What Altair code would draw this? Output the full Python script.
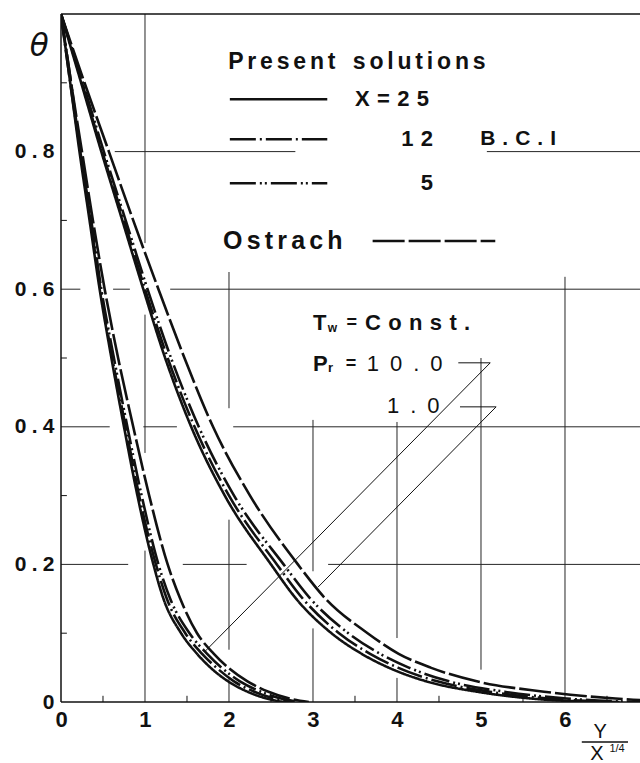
import altair as alt
import pandas as pd

# ---------------- data ----------------
theta_levels = [1.0, 0.9, 0.8, 0.7, 0.6, 0.5, 0.4, 0.3, 0.2, 0.15, 0.1, 0.07, 0.05, 0.03, 0.015, 0.005, 0.0]

# Pr = 10.0
pr10_x25 = [0, 0.11, 0.22, 0.34, 0.46, 0.60, 0.75, 0.91, 1.10, 1.22, 1.43, 1.62, 1.78, 1.99, 2.22, 2.45, 2.65]
pr10_x12 = [0, 0.11, 0.23, 0.35, 0.47, 0.61, 0.77, 0.93, 1.13, 1.26, 1.48, 1.68, 1.85, 2.06, 2.30, 2.54, 2.75]
pr10_x5 = [0, 0.12, 0.23, 0.36, 0.48, 0.63, 0.79, 0.96, 1.16, 1.30, 1.53, 1.74, 1.91, 2.13, 2.38, 2.62, 2.85]
pr10_ostrach = [0, 0.12, 0.25, 0.38, 0.52, 0.68, 0.86, 1.05, 1.27, 1.42, 1.62, 1.82, 1.99, 2.22, 2.47, 2.72, 2.95]

# Pr = 1.0
pr1_x25 = [0, 0.24, 0.48, 0.73, 0.98, 1.24, 1.55, 1.95, 2.50, 2.80, 3.22, 3.58, 3.90, 4.35, 4.95, 5.60, 6.40]
pr1_x12 = [0, 0.25, 0.49, 0.75, 1.00, 1.27, 1.59, 2.00, 2.57, 2.88, 3.31, 3.68, 4.01, 4.48, 5.10, 5.80, 6.65]
pr1_x5 = [0, 0.26, 0.51, 0.77, 1.03, 1.31, 1.64, 2.06, 2.65, 2.97, 3.42, 3.80, 4.14, 4.62, 5.28, 6.02, 6.90]
pr1_ostrach = [0, 0.28, 0.57, 0.86, 1.16, 1.47, 1.81, 2.25, 2.82, 3.15, 3.65, 4.02, 4.40, 4.95, 5.75, 6.60, 7.40]

x_ticks = [0, 1, 2, 3, 4, 5, 6]
y_ticks = [0, 0.2, 0.4, 0.6, 0.8]

series_names = ["X=25", "X=12", "X=5", "Ostrach"]

# ---------------- styling ----------------
XMAX = 6.893
FONT = "Liberation Sans"
INK = "#111111"
GRID = "#262626"
S3 = "\u2004"   # three-per-em space
S4 = "\u2005"   # four-per-em space
S6 = "\u2006"   # six-per-em space
S2 = "\u2002"   # en space
EM = "\u2003"

dashes = {
    "X=25": [1, 0],
    "X=12": [26, 4, 2, 4],
    "X=5": [26, 4, 2, 3, 2, 4],
    "Ostrach": [32, 4],
}

rows = []
for pr, lists in [("10", [pr10_x25, pr10_x12, pr10_x5, pr10_ostrach]),
                  ("1", [pr1_x25, pr1_x12, pr1_x5, pr1_ostrach])]:
    for name, xs in zip(series_names, lists):
        for i, (t, x) in enumerate(zip(theta_levels, xs)):
            rows.append({"series": name, "pr": pr, "x": x, "theta": t, "i": i})
curves = pd.DataFrame(rows)

xscale = alt.Scale(domain=[0, XMAX], nice=False, zero=False)
yscale = alt.Scale(domain=[0, 1], nice=False, zero=False)

x_axis = alt.Axis(values=x_ticks, format="d", domain=False, ticks=False, grid=False,
                  labelFont=FONT, labelFontSize=22, labelFontWeight="bold",
                  labelColor=INK, labelPadding=7, labelFlush=False, title=None)
y_axis = alt.Axis(values=y_ticks, domain=False, ticks=False, grid=False,
                  labelFont=FONT, labelFontSize=21, labelFontWeight="bold",
                  labelColor=INK, labelPadding=7, title=None,
                  labelExpr=f"datum.value == 0 ? '0' : replace(format(datum.value, '.1f'), '.', '{S4}.{S4}')")


def X(field="x"):
    return alt.X(f"{field}:Q", scale=xscale, axis=x_axis, title=None)


def Y(field="theta"):
    return alt.Y(f"{field}:Q", scale=yscale, axis=y_axis, title=None)


layers = []

# grid segments (broken like the original)
hgrid = pd.DataFrame([
    (0.8, 0.64, 2.79), (0.8, 5.07, XMAX),
    (0.6, 0.0, 0.23), (0.6, 0.62, 0.82), (0.6, 1.30, XMAX),
    (0.4, 0.0, 0.58), (0.4, 0.98, 1.38), (0.4, 2.05, XMAX),
    (0.2, 0.0, 0.80), (0.2, 1.45, 2.21), (0.2, 3.18, XMAX),
], columns=["theta", "x", "x2"])
vgrid = pd.DataFrame([
    (1, 1.0, 0.667), (1, 0.563, 0.362), (1, 0.22, 0.0),
    (2, 0.625, 0.427), (2, 0.265, 0.076), (2, 0.035, 0.0),
    (3, 0.41, 0.19), (3, 0.107, 0.0),
    (4, 0.407, 0.093), (4, 0.035, 0.0),
    (5, 0.50, 0.047),
    (6, 0.618, 0.0),
], columns=["x", "theta", "theta2"])

layers.append(alt.Chart(hgrid).mark_rule(color=GRID, strokeWidth=1).encode(
    x=X(), x2="x2:Q", y=Y()))
layers.append(alt.Chart(vgrid).mark_rule(color=GRID, strokeWidth=1).encode(
    x=X(), y=Y(), y2="theta2:Q"))

# frame: left axis, bottom axis, top line
frame_h = pd.DataFrame({"theta": [0.0, 1.0], "x": [0.0, 0.0], "x2": [XMAX, XMAX]})
frame_v = pd.DataFrame({"x": [0.0], "theta": [0.0], "theta2": [1.0]})
layers.append(alt.Chart(frame_h).mark_rule(color=INK, strokeWidth=1.5).encode(
    x=X(), x2="x2:Q", y=Y()))
layers.append(alt.Chart(frame_v).mark_rule(color=INK, strokeWidth=1.5).encode(
    x=X(), y=Y(), y2="theta2:Q"))

# minor ticks (inward)
ytick_minor = pd.DataFrame({"theta": [0.1, 0.3, 0.5, 0.7, 0.9], "x": [0.0] * 5, "x2": [0.07] * 5})
xtick_minor = pd.DataFrame({"x": [0.5, 1.5, 2.5, 3.5, 4.5, 5.5, 6.5], "theta": [0.0] * 7, "theta2": [0.009] * 7})
layers.append(alt.Chart(ytick_minor).mark_rule(color=INK, strokeWidth=1).encode(
    x=X(), x2="x2:Q", y=Y()))
layers.append(alt.Chart(xtick_minor).mark_rule(color=INK, strokeWidth=1).encode(
    x=X(), y=Y(), y2="theta2:Q"))

# curves
for name in series_names:
    layers.append(
        alt.Chart(curves).transform_filter(alt.datum.series == name)
        .mark_line(color=INK, strokeWidth=2.6, strokeDash=dashes[name], clip=True,
                   interpolate="monotone")
        .encode(x=X(), y=Y(), detail="pr:N", order="i:Q")
    )

# leader lines (Pr = 10.0 and 1.0)
leaders = pd.DataFrame([
    (4.73, 0.493, 5.11, 0.493), (5.11, 0.493, 1.71, 0.073),
    (4.75, 0.429, 5.18, 0.429), (5.18, 0.429, 3.06, 0.167),
], columns=["x", "theta", "x2", "theta2"])
layers.append(alt.Chart(leaders).mark_rule(color=INK, strokeWidth=1).encode(
    x=X(), y=Y(), x2="x2:Q", y2="theta2:Q"))

# legend sample lines
legend_lines = [
    ("X=25", 2.01, 3.17, 0.876),
    ("X=12", 2.01, 3.17, 0.818),
    ("X=5", 2.01, 3.17, 0.754),
    ("Ostrach", 3.71, 5.17, 0.670),
]
for name, x1, x2, t in legend_lines:
    layers.append(
        alt.Chart(pd.DataFrame({"x": [x1], "x2": [x2], "theta": [t]}))
        .mark_rule(color=INK, strokeWidth=2.6, strokeDash=dashes[name])
        .encode(x=X(), x2="x2:Q", y=Y())
    )


def label(text, x, t, size=20, weight="bold", align="left", style="normal", font=FONT):
    return alt.Chart(pd.DataFrame({"x": [x], "theta": [t], "t": [text]})).mark_text(
        align=align, baseline="middle", fontSize=size, fontWeight=weight,
        fontStyle=style, font=font, color=INK, clip=False
    ).encode(x=X(), y=Y(), text="t:N")


def spaced(s, gap=S3, word=EM):
    return word.join(gap.join(w) for w in s.split(" "))


layers += [
    label("θ", -0.26, 0.952, size=31, weight="normal", align="center", style="italic", font="DejaVu Sans"),
    label(spaced("Present solutions", gap=S6, word=S2 + S4), 1.99, 0.930, size=23),
    label(spaced("X=25"), 3.50, 0.876, size=22),
    label(spaced("12"), 4.43, 0.818, size=22, align="right"),
    label(spaced("B.C.I"), 4.99, 0.818, size=21),
    label("5", 4.43, 0.754, size=22, align="right"),
    label(spaced("Ostrach", gap=S6), 1.93, 0.670, size=25),
    label("T", 3.00, 0.551, size=22),
    label("w", 3.175, 0.543, size=12),
    label("=", 3.40, 0.551, size=18),
    label(spaced("Const."), 3.62, 0.551, size=22),
    label("P", 3.00, 0.491, size=22),
    label("r", 3.18, 0.485, size=13),
    label("=", 3.39, 0.491, size=18),
    label(spaced("10.0", gap=S2), 3.64, 0.491, size=22, weight="normal"),
    label(spaced("1.0", gap=S2), 3.88, 0.430, size=22, weight="normal"),
    # x-axis title Y / X^(1/4)
    label("Y", 6.42, -0.044, size=20, weight="normal", align="center"),
    label("X", 6.38, -0.075, size=20, weight="normal", align="center"),
    label("1/4", 6.62, -0.068, size=11, weight="normal", align="center"),
]
bar = pd.DataFrame({"x": [6.20], "x2": [6.75], "theta": [-0.058]})
layers.append(alt.Chart(bar).mark_rule(color=INK, strokeWidth=1.5, clip=False).encode(
    x=X(), x2="x2:Q", y=Y()))

chart = alt.layer(*layers).properties(
    width=579, height=688,
    padding={"left": 61, "top": 14, "right": 0, "bottom": 61},
    autosize=alt.AutoSizeParams(type="none"),
    background="white",
).configure_view(stroke=None)

chart.save("out.html", embed_options={"renderer": "svg", "actions": False})
